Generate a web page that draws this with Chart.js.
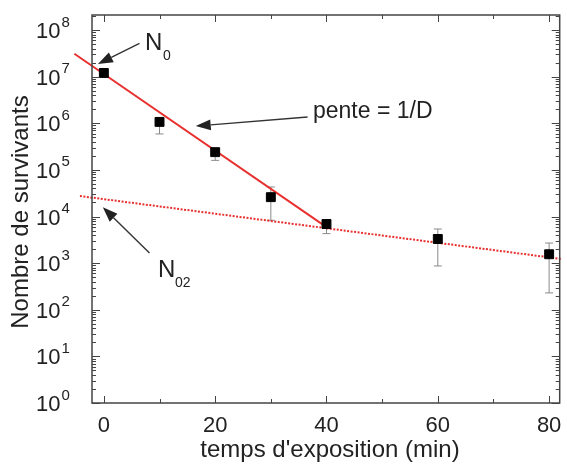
<!DOCTYPE html>
<html>
<head>
<meta charset="utf-8">
<script src="https://cdn.jsdelivr.net/npm/chart.js@4.4.1/dist/chart.umd.min.js"></script>
<style>
    html, body { margin: 0; padding: 0; background: #fff; }
    #wrap { width: 567px; height: 464px; }
</style>
</head>
<body>
<div id="wrap"><canvas id="survieChart" width="567" height="464"></canvas></div>
<script>
// temps d'exposition (min) et nombre de survivants
const temps = [0, 10, 20, 30, 40, 60, 80];
const survivants = [1.2e7, 1.07e6, 2.4e5, 2.6e4, 6.9e3, 3.3e3, 1.55e3];
const errHaut = [1.35e7, 1.3e6, 2.9e5, 4.3e4, 8.5e3, 5.4e3, 2.7e3];
const errBas = [1.05e7, 5.9e5, 1.6e5, 8.3e3, 4.3e3, 8.7e2, 2.3e2];

// droite de pente 1/D (trait plein)
const penteX = [-5.3, 40];
const penteY = [3.1e7, 5.9e3];
// droite N02 (pointillés)
const n02X = [-4.3, 82.2];
const n02Y = [2.75e4, 1.23e3];

// graduations
const xLabels = [0, 20, 40, 60, 80];
const xMinor = [10, 30, 50, 70];
const yExposants = [0, 1, 2, 3, 4, 5, 6, 7, 8];

// annotations (coordonnées des données)
const fleches = [
    { de: [6.4, 5.2e7], vers: [-1.07, 1.86e7] },
    { de: [36.6, 1.36e6], vers: [16.5, 8.7e5] },
    { de: [8.2, 1.64e3], vers: [-0.18, 1.58e4] }
];

const RED = '#e8312f';
const AXE = '#444';
const TXT = '#222';
const FONT = '"Liberation Sans", Arial, sans-serif';

/**
 * Barres d'erreur, sous les points
 */
const errorBars = {
    id: 'errorBars',
    beforeDatasetsDraw(chart) {
        const { ctx, scales: { x, y } } = chart;
        ctx.save();
        ctx.strokeStyle = '#8a8a8a';
        ctx.lineWidth = 1;
        temps.forEach((t, i) => {
            const px = x.getPixelForValue(t);
            const top = y.getPixelForValue(errHaut[i]);
            const bot = y.getPixelForValue(errBas[i]);
            ctx.beginPath();
            ctx.moveTo(px, top); ctx.lineTo(px, bot);
            ctx.moveTo(px - 4, top); ctx.lineTo(px + 4, top);
            ctx.moveTo(px - 4, bot); ctx.lineTo(px + 4, bot);
            ctx.stroke();
        });
        ctx.restore();
    }
};

/**
 * Cadre, graduations intérieures, libellés et flèches
 */
const cadre = {
    id: 'cadre',
    afterDraw(chart) {
        const { ctx, chartArea: a, scales: { x, y } } = chart;
        ctx.save();
        ctx.strokeStyle = AXE;
        ctx.lineWidth = 1.5;
        ctx.strokeRect(a.left, a.top, a.right - a.left, a.bottom - a.top);

        // graduations x (bas et haut)
        ctx.lineWidth = 1;
        ctx.beginPath();
        xLabels.forEach(v => {
            const px = Math.round(x.getPixelForValue(v)) + 0.5;
            ctx.moveTo(px, a.bottom); ctx.lineTo(px, a.bottom - 7);
            ctx.moveTo(px, a.top); ctx.lineTo(px, a.top + 7);
        });
        xMinor.forEach(v => {
            const px = Math.round(x.getPixelForValue(v)) + 0.5;
            ctx.moveTo(px, a.bottom); ctx.lineTo(px, a.bottom - 4);
            ctx.moveTo(px, a.top); ctx.lineTo(px, a.top + 4);
        });
        // graduations y logarithmiques (gauche et droite)
        yExposants.forEach(e => {
            const py = Math.round(y.getPixelForValue(Math.pow(10, e))) + 0.5;
            ctx.moveTo(a.left, py); ctx.lineTo(a.left + 8, py);
            ctx.moveTo(a.right, py); ctx.lineTo(a.right - 8, py);
            for (let k = 2; k <= 9; k++) {
                const v = k * Math.pow(10, e);
                if (v > y.max) break;
                const pm = Math.round(y.getPixelForValue(v)) + 0.5;
                ctx.moveTo(a.left, pm); ctx.lineTo(a.left + 4, pm);
                ctx.moveTo(a.right, pm); ctx.lineTo(a.right - 4, pm);
            }
        });
        ctx.stroke();

        // libellés x
        ctx.fillStyle = TXT;
        ctx.font = '22px ' + FONT;
        ctx.textAlign = 'center';
        ctx.textBaseline = 'alphabetic';
        xLabels.forEach(v => ctx.fillText(String(v), x.getPixelForValue(v), 432));

        // libellés y : 10 puissance n
        yExposants.forEach(e => {
            const py = y.getPixelForValue(Math.pow(10, e));
            ctx.textAlign = 'left';
            ctx.font = '22px ' + FONT;
            ctx.fillText('10', 36, py + 8);
            const w = ctx.measureText('10').width;
            ctx.font = '15px ' + FONT;
            ctx.fillText(String(e), 36 + w + 1, py - 3.5);
        });

        // titres des axes
        ctx.font = '24px ' + FONT;
        ctx.textAlign = 'center';
        ctx.fillText("temps d'exposition (min)", 330, 457);
        ctx.save();
        ctx.translate(28, 212);
        ctx.rotate(-Math.PI / 2);
        ctx.fillText('Nombre de survivants', 0, 0);
        ctx.restore();

        // flèches
        ctx.strokeStyle = '#333';
        ctx.fillStyle = '#222';
        ctx.lineWidth = 1.4;
        fleches.forEach(f => {
            const x0 = x.getPixelForValue(f.de[0]), y0 = y.getPixelForValue(f.de[1]);
            const x1 = x.getPixelForValue(f.vers[0]), y1 = y.getPixelForValue(f.vers[1]);
            const ang = Math.atan2(y1 - y0, x1 - x0);
            const L = 15, W = 5.5;
            const bx = x1 - L * Math.cos(ang), by = y1 - L * Math.sin(ang);
            ctx.beginPath();
            ctx.moveTo(x0, y0); ctx.lineTo(bx, by);
            ctx.stroke();
            ctx.beginPath();
            ctx.moveTo(x1, y1);
            ctx.lineTo(bx + W * Math.sin(ang), by - W * Math.cos(ang));
            ctx.lineTo(bx - W * Math.sin(ang), by + W * Math.cos(ang));
            ctx.closePath();
            ctx.fill();
        });

        // textes des annotations
        ctx.fillStyle = TXT;
        ctx.textAlign = 'left';
        ctx.font = '24px ' + FONT;
        ctx.fillText('N', 145, 50);
        ctx.fillText('N', 158, 277);
        ctx.font = '14px ' + FONT;
        ctx.fillText('0', 163, 60);
        ctx.fillText('02', 175, 287);
        ctx.font = '23px ' + FONT;
        ctx.fillText('pente = 1/D', 313, 118);
        ctx.restore();
    }
};

const ctx = document.getElementById('survieChart');

new Chart(ctx, {
    type: 'scatter',
    data: {
        datasets: [
            {
                label: 'survivants',
                data: temps.map((t, i) => ({ x: t, y: survivants[i] })),
                pointStyle: 'rect',
                pointRadius: 6.3,
                backgroundColor: '#000',
                borderColor: '#000',
                borderWidth: 1
            },
            {
                type: 'line',
                label: 'pente 1/D',
                data: penteX.map((t, i) => ({ x: t, y: penteY[i] })),
                borderColor: RED,
                borderWidth: 2,
                pointRadius: 0,
                fill: false,
                clip: false
            },
            {
                type: 'line',
                label: 'N02',
                data: n02X.map((t, i) => ({ x: t, y: n02Y[i] })),
                borderColor: RED,
                borderWidth: 2,
                borderDash: [2, 1.5],
                pointRadius: 0,
                fill: false,
                clip: false
            }
        ]
    },
    options: {
        responsive: false,
        animation: false,
        layout: { padding: { left: 92, top: 15, right: 2, bottom: 61 } },
        plugins: {
            legend: { display: false },
            tooltip: { enabled: false }
        },
        scales: {
            x: { type: 'linear', min: -2.13, max: 81.9, display: false },
            y: { type: 'logarithmic', min: 1, max: 2.1e8, display: false }
        }
    },
    plugins: [errorBars, cadre]
});
</script>
</body>
</html>
